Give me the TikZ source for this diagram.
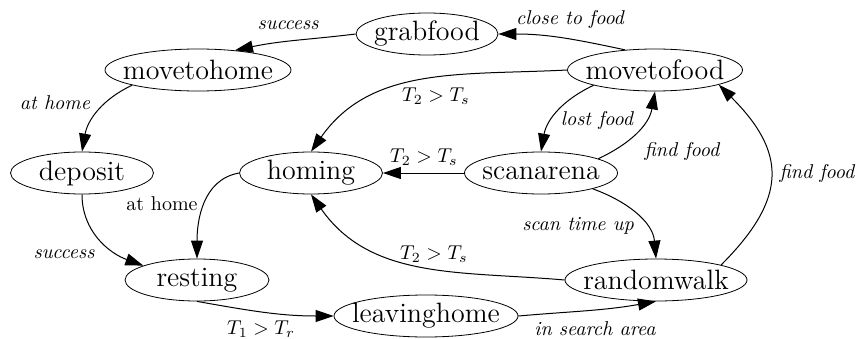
\documentclass[tikz,border=0pt]{standalone}
\usetikzlibrary{shapes.geometric,arrows.meta}
\begin{document}
\begin{tikzpicture}[x=0.5pt,y=0.5pt,
  state/.style={draw,ellipse,inner xsep=-8pt,inner ysep=0pt,minimum height=21pt,font=\fontsize{14}{17}\selectfont},
  lbl/.style={font=\fontsize{10}{12}\selectfont\itshape,inner sep=0pt},
  trans/.style={-{Triangle[length=9pt,width=6pt]},line width=0.5pt}]
\useasboundingbox (0,0) rectangle (856,338);
% states
\node[state,minimum width=71pt] (grabfood) at (427,304) {grabfood};
\node[state,minimum width=93pt] (movetohome) at (198,268) {movetohome};
\node[state,minimum width=87.5pt] (movetofood) at (655,268) {movetofood};
\node[state,minimum width=71.5pt] (deposit) at (82,165) {deposit};
\node[state,minimum width=71.5pt] (homing) at (311,165) {homing};
\node[state,minimum width=76.5pt] (scanarena) at (541,165) {scanarena};
\node[state,minimum width=72pt] (resting) at (197,58) {resting};
\node[state,minimum width=91pt] (randomwalk) at (656,58) {randomwalk};
\node[state,minimum width=92pt] (leavinghome) at (426,22) {leavinghome};
% transitions
\draw[trans] (grabfood.west) to[out=187,in=12] (movetohome.28);
\draw[trans] (movetofood.146) to[out=168,in=0] (grabfood.east);
\draw[trans] (movetohome.193) to[out=205,in=80] (deposit.north);
\draw[trans] (movetofood.west) to[out=183,in=55] (homing.north);
\draw[trans] (movetofood.194) to[out=205,in=80] (scanarena.north);
\draw[trans] (scanarena.14) to[out=25,in=260] (movetofood.south);
\draw[trans] (scanarena.west) -- (homing.east);
\draw[trans] (homing.west) to[out=190,in=90] (resting.north);
\draw[trans] (deposit.south) to[out=270,in=160] (resting.165);
\draw[trans] (scanarena.-17) to[out=-20,in=95] (randomwalk.north);
\draw[trans] (randomwalk.west) to[out=175,in=-55] (homing.south);
\draw[trans] (randomwalk.13) to[out=45,in=-45,looseness=1.35] (movetofood.-13);
\draw[trans] (resting.south) to[out=-10,in=180] (leavinghome.west);
\draw[trans] (leavinghome.east) to[out=5,in=190] (randomwalk.south);
% labels
\node[lbl] (lsuccessa) at (288,313) {success};
\node[lbl] (lclose) at (570,318) {close to food};
\node[lbl] (lathomea) at (55,235) {at home};
\node[lbl] (ltwoa) at (436,242) {$T_2 > T_s$};
\node[lbl] (llost) at (597,218) {lost food};
\node[lbl] (lfinda) at (682,187) {find food};
\node[lbl] (ltwob) at (424,181) {$T_2 > T_s$};
\node[lbl,font=\fontsize{10}{12}\selectfont] (lathomeb) at (162,134) {at home};
\node[lbl] (lsuccessb) at (64,84) {success};
\node[lbl] (lscan) at (578,112) {scan time up};
\node[lbl] (ltwoc) at (434,84) {$T_2 > T_s$};
\node[lbl] (lfindb) at (817,165) {find food};
\node[lbl] (lonea) at (261,9) {$T_1 > T_r$};
\node[lbl] (lsearch) at (595,9) {in search area};
\end{tikzpicture}
\end{document}
